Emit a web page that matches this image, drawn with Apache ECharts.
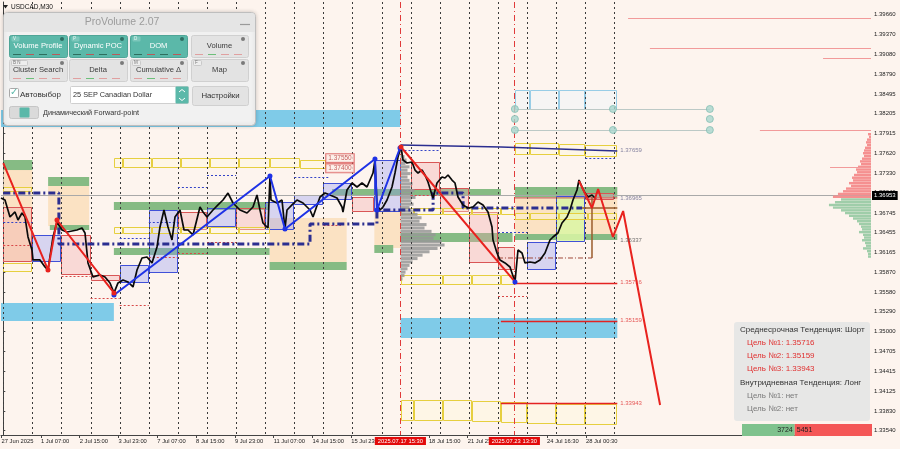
<!DOCTYPE html>
<html>
<head>
<meta charset="utf-8">
<title>USDCAD,M30</title>
<script src="https://cdn.jsdelivr.net/npm/echarts@6.0.0/dist/echarts.min.js"></script>
<style>
html,body{margin:0;padding:0;background:#FDF4EE;overflow:hidden}
#chart{width:900px;height:449px}
</style>
</head>
<body>
<div id="chart"></div>
<script>
// ================= DATA =================
// x unit: trading-day index (0 = 30 Jun 2025 00:00, 1 = 1 Jul, ... 20 = 28 Jul)
const X_MIN = -0.079, X_MAX = 29.818;
const Y_MIN = 1.33477, Y_MAX = 1.39847;

const yTickValues = [1.39660,1.39370,1.39080,1.38790,1.38495,1.38205,1.37915,1.37620,1.37330,1.37040,1.36745,1.36455,1.36165,1.35870,1.35580,1.35290,1.35000,1.34705,1.34415,1.34125,1.33830,1.33540];
const xLabelDays  = [-0.06,1.292,2.625,3.958,5.292,6.625,7.958,9.292,10.625,11.958,14.625,15.958,18.688,20.021];
const xLabelTexts = ['27 Jun 2025','1 Jul 07:00','2 Jul 15:00','3 Jul 23:00','7 Jul 07:00','8 Jul 15:00','9 Jul 23:00','11 Jul 07:00','14 Jul 15:00','15 Jul 23:00','18 Jul 15:00','21 Jul 23:00','24 Jul 16:30','28 Jul 00:30'];
const markerDays  = [13.646, 17.5625];
const markerTexts = ['2025.07.17 15:30','2025.07.23 13:30'];
const daySeparators = [0,1,2,3,4,5,6,7,8,9,10,11,12,13,14,15,16,17,18,19,20,21];

const CURRENT_PRICE = 1.36953;

// price path (USDCAD M30)
const priceDays = [-0.079,0.058,0.230,0.402,0.505,0.643,0.746,0.849,0.986,1.021,
  1.261,1.433,1.536,1.708,1.845,2.017,2.189,2.533,2.704,2.808,
  2.911,3.082,3.323,3.495,3.667,3.804,3.942,4.113,4.285,4.457,
  4.595,4.766,4.938,5.110,5.282,5.385,5.522,5.660,5.797,5.900,
  6.072,6.210,6.347,6.519,6.759,6.863,7.000,7.206,7.378,7.550,
  7.722,7.894,8.134,8.375,8.581,8.718,8.821,8.924,9.096,9.165,
  9.199,9.405,9.577,9.680,9.749,9.921,10.093,10.299,10.540,10.643,
  10.883,11.055,11.227,11.467,11.639,11.673,11.811,11.983,12.155,12.326,
  12.498,12.601,12.704,12.773,12.842,12.945,13.048,13.186,13.357,13.460,
  13.563,13.666,13.735,13.873,14.045,14.148,14.251,14.388,14.491,14.594,
  14.732,14.766,14.904,15.076,15.179,15.282,15.419,15.522,15.625,15.797,
  15.969,16.141,16.313,16.485,16.656,16.794,16.828,16.966,17.069,17.241,
  17.412,17.584,17.687,17.825,17.928,18.100,18.271,18.443,18.615,18.787,
  18.890,19.062,19.199,19.371,19.474,19.577,19.715,19.784,19.887,19.990,
  20.093,20.230,20.367];
const priceVals = [1.36964,1.36934,1.36684,1.36758,1.36640,1.36743,1.36684,1.36390,1.36199,1.36052,
  1.36052,1.35949,1.35905,1.36390,1.36611,1.36493,1.36464,1.36493,1.36522,1.36449,
  1.36008,1.35802,1.35832,1.35802,1.35714,1.35567,1.35714,1.35758,1.35729,1.35655,
  1.35905,1.36081,1.36096,1.36008,1.36243,1.36537,1.36787,1.36537,1.36346,1.36684,
  1.36787,1.36493,1.36493,1.36420,1.36831,1.36758,1.36684,1.36787,1.36861,1.36934,
  1.37037,1.36890,1.36787,1.36743,1.36831,1.37008,1.36787,1.36596,1.36522,1.37287,
  1.36934,1.36890,1.36934,1.36508,1.36787,1.36861,1.36934,1.36890,1.36787,1.36684,
  1.36978,1.37037,1.37008,1.36964,1.36831,1.36758,1.37081,1.37184,1.37125,1.37184,
  1.37125,1.37228,1.37331,1.37523,1.36861,1.36787,1.36831,1.36934,1.37125,1.37331,
  1.37567,1.37714,1.37523,1.37478,1.37493,1.37375,1.37331,1.37375,1.37302,1.37199,
  1.37008,1.36964,1.37184,1.37273,1.37258,1.37302,1.37228,1.37184,1.36978,1.36861,
  1.36817,1.36831,1.36905,1.36861,1.36758,1.36537,1.36346,1.36155,1.36052,1.36008,
  1.35949,1.35729,1.36199,1.36155,1.36008,1.36022,1.36008,1.36052,1.36155,1.36346,
  1.36390,1.36449,1.36596,1.36684,1.36787,1.36934,1.37081,1.37228,1.37125,1.37037,
  1.36978,1.37008,1.36949];

// zones: [dayFrom, dayTo, priceA, priceB]
const skyBands = [[-0.1,13.65,1.38258,1.38008],[-0.1,3.8,1.35419,1.35154],[13.65,21.1,1.35198,1.34904]];
const greenBands = [[0,1,1.37523,1.37375],[1.54,2.95,1.37273,1.37140],[1.6,2.95,1.36567,1.36493],
  [3.8,9.1,1.36905,1.36787],[3.8,9.15,1.36228,1.36125],[9.15,11.8,1.36022,1.35905],
  [12.75,13.4,1.36272,1.36155],[11.3,17.1,1.37096,1.36993],[13.65,17.5,1.36449,1.36316],
  [17.58,21.1,1.37125,1.36978],[17.58,21.1,1.36434,1.36346]];
const peachZones = [[0,1,1.37375,1.36022],[1.54,2.95,1.37140,1.36552],[9.15,11.8,1.36670,1.36022],
  [12.75,13.65,1.36787,1.36228],[17.58,21.1,1.36978,1.36434]];
const blueBoxes = [[1,2,1.36420,1.36022],[4,5,1.35978,1.35714],[5,6,1.36787,1.35860],[7,8,1.36817,1.36537],
  [9,10,1.36905,1.36493],[10,11,1.37008,1.36861],[11,12,1.37184,1.36934],[12.75,13.65,1.37523,1.36758],
  [18,19,1.36316,1.35905]];
const pinkBoxes = [[0,1,1.36831,1.36022],[2,3,1.36420,1.35832],[3,4,1.35832,1.35744],[6,7,1.36758,1.36493],
  [8,9,1.36817,1.36493],[12,12.75,1.36978,1.36758],[14,15,1.37493,1.37081],[15,16,1.37111,1.36758],
  [16,17,1.36758,1.36008],[17,17.58,1.36243,1.35905],[20,21,1.37037,1.36934]];
const limeBoxes = [[19,20,1.36993,1.36316]];
const yellowBoxes = [
  [3.8,4.1,1.37552,1.37405],[4.1,5.1,1.37552,1.37405],[5.1,6.1,1.37552,1.37405],[6.1,7.1,1.37552,1.37405],
  [7.1,8.1,1.37552,1.37405],[8.1,9.15,1.37552,1.37405],[9.15,10.2,1.37552,1.37405],[10.2,11.1,1.37522,1.37390],
  [3.8,4.1,1.36537,1.36434],[4.1,5.1,1.36537,1.36434],[5.1,6.1,1.36537,1.36434],[6.1,7.1,1.36537,1.36434],
  [7.1,8.1,1.36537,1.36434],[8.1,9.15,1.36537,1.36434],
  [0,1,1.37125,1.37052],[0,1,1.36008,1.35875],
  [13.65,14.1,1.36817,1.36714],[14.1,15.1,1.36817,1.36714],[15.1,16.1,1.36817,1.36714],[16.1,17.1,1.36817,1.36714],[17.1,17.58,1.36817,1.36714],
  [17.58,18.1,1.36743,1.36640],[18.1,19.1,1.36743,1.36640],[19.1,20.1,1.36743,1.36640],[20.1,21.1,1.36743,1.36640],
  [13.65,15.1,1.35832,1.35685],[15.1,16.1,1.35832,1.35685],[16.1,17.1,1.35832,1.35685],[17.1,17.58,1.35832,1.35685],
  [13.65,14.1,1.33992,1.33683],[14.1,15.1,1.33992,1.33683],[15.1,16.1,1.33992,1.33683],[16.1,17.1,1.33978,1.33668],
  [17.1,18.0,1.33963,1.33654],[18.0,19.0,1.33948,1.33640],[19.0,20.0,1.33933,1.33625],[20.0,21.1,1.33933,1.33625],
  [17.58,18.1,1.37773,1.37596],[18.1,19.1,1.37773,1.37596],[19.1,20.0,1.37758,1.37582],[20.0,21.1,1.37743,1.37567]];
const forwardBoxes = [[17.58,18.1,1.38552,1.38258],[18.1,19.1,1.38552,1.38258],[19.1,20.0,1.38552,1.38258],[20.0,21.1,1.38552,1.38258]];

// thin POC-type dotted levels: [dayFrom, dayTo, price]
const navyDotted = [[0,1,1.36611],[4,5,1.36375],[5,6,1.36611],[6,7,1.37125],[7,8,1.37302],[10,11.2,1.37273],
  [13.65,15,1.37670],[17,18,1.36464],[20,21,1.37552]];
const redDotted = [[0,1,1.36272],[2,3,1.35816],[3,4,1.35493],[4,5,1.35390],[5,6,1.36096],[6,7,1.36155],
  [7,8,1.36316],[11,11.6,1.36567],[14,15,1.37008],[17,18,1.35522]];

// navy dash-dot value-area path
const navyPathDays = [0,1.91,1.91,10.54,10.54,12.84,12.84,14.77,14.77,15.80,15.80,19.89];
const navyPathVals = [1.37037,1.37037,1.36287,1.36287,1.36581,1.36581,1.36787,1.36787,1.37037,1.37037,1.36817,1.36817];
const navyTopDays = [13.65,17.1,21.1];
const navyTopVals = [1.37743,1.37714,1.37655];

// zigzags
const redZzDays = [0,1.536,1.845,3.804];
const redZzVals = [1.37478,1.35905,1.36640,1.35567];
const blueZzDays = [3.804,9.165,9.680,12.773,12.842,13.632];
const blueZzVals = [1.35537,1.37287,1.36508,1.37537,1.36787,1.37699];
const redZz2Days = [13.666,17.584];
const redZz2Vals = [1.37714,1.35729];
const forecastDays = [19.784,20.23,20.44,20.95,21.30,22.57];
const forecastVals = [1.37214,1.36817,1.37096,1.36390,1.36772,1.33919];

// targets
const targetVals = [1.35716,1.35159,1.33943];
const targetStart = [17.58,17.1,17.1];
const TARGET_END = 21.1;
const levelLabelVals = [1.37659,1.36965,1.36337,1.35716,1.35159,1.33943];
const LABEL_DAY = 21.15;
const boxLabelVals = [1.37550,1.37400];
const BOX_LABEL_DAY = 11.08;

// brown forward-point lines
const brownV = [[20.23,1.36978],[20.23,1.36081]];
const brownH = [[19.89,1.36817],[21.1,1.36817]];
const brownDash = [[17.0,1.36081],[20.23,1.36081]];
const level36965 = [[17.58,1.36965],[21.1,1.36965]];

// forward-point dots
const tealDotDays = [17.58,17.58,17.58,20.95,20.95,24.28,24.28,24.28];
const tealDotVals = [1.38273,1.38126,1.37964,1.38273,1.37964,1.38273,1.38126,1.37964];
const tealLineVals = [1.38273,1.37964];
const TEAL_FROM = 17.58, TEAL_TO = 24.28;

// volume profiles
const VOL_SCALE = 0.0344; // days per volume unit
const grayProfileAnchor = 13.65;
const grayProfilePrices = [1.3762,1.3757,1.3752,1.3747,1.3742,1.3737,1.3732,1.3727,1.3722,1.3717,1.3712,1.3707,1.3702,1.3697,1.3692,1.3687,1.3682,1.3677,1.3672,1.3667,1.3662,1.3657,1.3652,1.3647,1.3642,1.3637,1.3632,1.3627,1.3622,1.3617,1.3612,1.3607,1.3602,1.3597,1.3592,1.3587,1.3582,1.3577];
const grayProfileVols = [2,4,6,5,9,7,10,7,9,12,10,14,12,15,11,13,9,12,17,21,19,26,24,31,35,33,41,44,37,29,22,17,12,9,7,5,4,2];
const rightRedPrices = [1.3790,1.3786,1.3782,1.3778,1.3774,1.3770,1.3766,1.3762,1.3758,1.3754,1.3750,1.3746,1.3742,1.3738,1.3734,1.3730,1.3726,1.3722,1.3718,1.3714,1.3710,1.3706,1.3702,1.3698];
const rightRedVols = [3,2,4,5,4,6,7,8,7,9,11,10,13,15,14,17,19,18,22,20,25,28,33,38];
const rightGreenPrices = [1.3694,1.3690,1.3686,1.3682,1.3678,1.3674,1.3670,1.3666,1.3662,1.3658,1.3654,1.3650,1.3646,1.3642,1.3638,1.3634,1.3630,1.3626,1.3622,1.3618,1.3614,1.3610];
const rightGreenVols = [30,36,42,38,30,26,22,18,14,12,10,9,12,8,7,9,6,5,8,4,3,3];
const rightLevelStarts = [21.47,22.22,28.17,26.0,28.41];
const rightLevelPrices = [1.39611,1.39170,1.39023,1.37964,1.37419];

// delta & info
const deltaBuy = 3724, deltaSell = 5451;

// ================= HELPERS =================
const pairs = (xs, ys) => xs.map((x, i) => [x, ys[i]]);

function boxSeries(name, data, style, z) {
  return {
    name, type: 'custom', z, silent: true, clip: true,
    encode: { x: [0, 1], y: [2, 3] }, data,
    renderItem(params, api) {
      const a = api.coord([api.value(0), api.value(2)]);
      const b = api.coord([api.value(1), api.value(3)]);
      let x1 = Math.min(a[0], b[0]), x2 = Math.max(a[0], b[0]);
      let y1 = Math.min(a[1], b[1]), y2 = Math.max(a[1], b[1]);
      if (style.stroke) { x1 = Math.round(x1) + 0.5; x2 = Math.round(x2) - 0.5; y1 = Math.round(y1) + 0.5; y2 = Math.round(y2) - 0.5; }
      return { type: 'rect', shape: { x: x1, y: y1, width: Math.max(1, x2 - x1), height: Math.max(1, y2 - y1) }, style: Object.assign({}, style) };
    }
  };
}
function segSeries(name, data, style, z) {
  return {
    name, type: 'custom', z, silent: true, clip: true,
    encode: { x: [0, 1], y: 2 }, data,
    renderItem(params, api) {
      const a = api.coord([api.value(0), api.value(2)]);
      const b = api.coord([api.value(1), api.value(2)]);
      const y = Math.round(a[1]) + 0.5;
      return { type: 'line', shape: { x1: a[0], y1: y, x2: b[0], y2: y }, style: Object.assign({}, style) };
    }
  };
}
function vlineSeries(name, days, style, z) {
  return {
    name, type: 'custom', z, silent: true, clip: true,
    encode: { x: 0 }, data: days.map(d => [d]),
    renderItem(params, api) {
      const t = api.coord([api.value(0), Y_MAX]);
      const b = api.coord([api.value(0), Y_MIN]);
      const x = Math.round(t[0]) + 0.5;
      return { type: 'line', shape: { x1: x, y1: t[1], x2: x, y2: b[1] }, style: Object.assign({}, style) };
    }
  };
}
function profileSeries(name, prices, vols, anchor, dir, bin, color, z) {
  return {
    name, type: 'custom', z, silent: true, clip: true,
    encode: { y: 0, x: 1 }, data: pairs(prices, vols),
    renderItem(params, api) {
      const p = api.value(0), v = api.value(1);
      const a = api.coord([anchor, p]);
      const b = api.coord([anchor + dir * v * VOL_SCALE, p]);
      const h = Math.abs(api.size([0, bin])[1]);
      return { type: 'rect', shape: { x: Math.min(a[0], b[0]), y: a[1] - h / 2, width: Math.abs(b[0] - a[0]), height: h * 0.9 }, style: { fill: color } };
    }
  };
}
function lineSeries(name, data, color, width, z, extra) {
  return Object.assign({
    name, type: 'line', z, silent: true, data, showSymbol: false, symbol: 'none',
    lineStyle: { color, width }, itemStyle: { color }, animation: false
  }, extra || {});
}

// ================= CHART =================
const FONT = '"Liberation Sans", Arial, sans-serif';
const chart = echarts.init(document.getElementById('chart'), null, { renderer: 'canvas' });

const series = [
  boxSeries('peach', peachZones, { fill: '#FBE2C3' }, 1),
  boxSeries('green', greenBands, { fill: '#86BB84' }, 2),
  boxSeries('pink', pinkBoxes, { fill: 'rgba(242,165,170,0.35)', stroke: '#D95656', lineWidth: 1 }, 3),
  boxSeries('blue', blueBoxes, { fill: 'rgba(140,150,245,0.33)', stroke: '#4050D8', lineWidth: 1 }, 3),
  boxSeries('lime', limeBoxes, { fill: 'rgba(218,246,165,0.85)', stroke: '#4050D8', lineWidth: 1 }, 3),
  boxSeries('yellow', yellowBoxes, { fill: 'rgba(255,250,215,0.35)', stroke: '#E6CF3F', lineWidth: 1 }, 4),
  boxSeries('forward', forwardBoxes, { fill: 'rgba(235,247,252,0.4)', stroke: '#98CDE6', lineWidth: 1 }, 4),
  profileSeries('grayProfile', grayProfilePrices, grayProfileVols, grayProfileAnchor, 1, 0.0005, 'rgba(150,150,150,0.85)', 4),
  boxSeries('sky', skyBands, { fill: '#7FCBE8' }, 5),
  profileSeries('rightRed', rightRedPrices, rightRedVols, X_MAX, -1, 0.0004, '#F59090', 5),
  profileSeries('rightGreen', rightGreenPrices, rightGreenVols, X_MAX, -1, 0.0004, '#9FCDA9', 5),
  segSeries('rightLevels', rightLevelStarts.map((d, i) => [d, X_MAX, rightLevelPrices[i]]), { stroke: '#F29A9A', lineWidth: 1.2 }, 5),
  vlineSeries('daySep', daySeparators, { stroke: '#3A3A3A', lineWidth: 1, lineDash: [2, 3] }, 6),
  vlineSeries('markers', markerDays, { stroke: '#E03A3A', lineWidth: 1, lineDash: [6, 3, 1, 3] }, 6),
  segSeries('navyDotted', navyDotted, { stroke: '#3444C8', lineWidth: 1, lineDash: [2, 2] }, 6),
  segSeries('redDotted', redDotted, { stroke: '#D84848', lineWidth: 1, lineDash: [2, 2] }, 6),
  segSeries('tealLevels', tealLineVals.map(v => [TEAL_FROM, TEAL_TO, v]), { stroke: '#BCC9C6', lineWidth: 1 }, 6),
  lineSeries('navyPath', pairs(navyPathDays, navyPathVals), '#2B2E90', 3, 7, { lineStyle: { color: '#2B2E90', width: 3, type: [7, 3, 2, 3] } }),
  lineSeries('navyTop', pairs(navyTopDays, navyTopVals), '#2B2E90', 1.5, 7),
  lineSeries('brownV', brownV, '#9A5C2C', 1.5, 7),
  lineSeries('brownH', brownH, '#9A5C2C', 1.5, 7),
  lineSeries('brownDash', brownDash, '#A0483A', 1, 7, { lineStyle: { color: '#A0483A', width: 1, type: [5, 2, 1, 2] } }),
  lineSeries('lvl36965', level36965, '#B85050', 1, 7),
  {
    name: 'tealDots', type: 'scatter', z: 7, silent: true, symbolSize: 7,
    data: pairs(tealDotDays, tealDotVals),
    itemStyle: { color: '#A9D6CD', borderColor: '#86BFB4', borderWidth: 1 }
  },
  lineSeries('price', pairs(priceDays, priceVals), '#0A0A0A', 1.7, 8, {
    markLine: {
      silent: true, symbol: ['none', 'none'], animation: false,
      data: [{ yAxis: CURRENT_PRICE }],
      lineStyle: { color: '#A9A9A9', width: 1, type: 'solid' },
      label: { show: true, position: 'end', distance: 1, formatter: () => CURRENT_PRICE.toFixed(5),
        backgroundColor: '#000', color: '#fff', fontSize: 6, fontFamily: FONT, padding: [2, 2, 1, 2] }
    }
  }),
  lineSeries('blueZz', pairs(blueZzDays, blueZzVals), '#1E32E6', 2, 9, { showSymbol: true, symbol: 'circle', symbolSize: 5 }),
  lineSeries('redZz', pairs(redZzDays, redZzVals).map((p, i) => i === 0 ? { value: p, symbol: 'none' } : p), '#E8221E', 2, 9, { showSymbol: true, symbol: 'circle', symbolSize: 5 }),
  lineSeries('redZz2', pairs(redZz2Days, redZz2Vals).map((p, i) => i === 1 ? { value: p, itemStyle: { color: '#1E32E6' } } : p), '#E8221E', 2, 9, { showSymbol: true, symbol: 'circle', symbolSize: 5 }),
  lineSeries('forecast', pairs(forecastDays, forecastVals), '#E8221E', 2, 9),
  segSeries('targets', targetVals.map((v, i) => [targetStart[i], TARGET_END, v]), { stroke: '#E42222', lineWidth: 1.6 }, 9),
  {
    name: 'levelLabels', type: 'scatter', z: 10, silent: true, symbolSize: 1,
    itemStyle: { color: 'transparent' },
    data: levelLabelVals.map((v, i) => ({ value: [LABEL_DAY, v], label: { color: i < 2 ? '#66668C' : (i === 2 ? '#505050' : '#E03030') } })),
    label: { show: true, position: 'right', distance: 1, fontSize: 6, fontFamily: FONT, formatter: p => p.value[1].toFixed(5) }
  },
  {
    name: 'boxLabels', type: 'scatter', z: 10, silent: true, symbolSize: 1,
    itemStyle: { color: 'transparent' },
    data: boxLabelVals.map(v => [BOX_LABEL_DAY, v]),
    label: { show: true, position: 'right', distance: 0, fontSize: 6.5, fontFamily: FONT, color: '#B83A3A',
      backgroundColor: '#FDF0EA', borderColor: '#D85050', borderWidth: 1, padding: [1, 2, 0, 2],
      formatter: p => p.value[1].toFixed(5) }
  }
];

// ---------- panel / overlays (UI, not data marks) ----------
const TEAL = '#5BB8A9';
const g = [];
const T = (text, x, y, size, color, align, extra) => Object.assign({
  type: 'text', z: 101, silent: true,
  style: { text, x, y, fill: color, font: size + 'px ' + FONT, textAlign: align || 'left', textVerticalAlign: 'middle', align: align || 'left', verticalAlign: 'middle' }
}, extra || {});
const R = (x, y, w, h, fill, stroke, r, z) => ({ type: 'rect', z: z || 100, silent: true, shape: { x, y, width: w, height: h, r: r || 0 }, style: { fill, stroke: stroke || null, lineWidth: 1 } });

// symbol header
g.push({ type: 'polygon', z: 100, silent: true, shape: { points: [[3, 5], [8, 5], [5.5, 8.5]] }, style: { fill: '#222' } });
g.push(T('USDCAD,M30', 11, 7, 6.5, '#111'));

// ProVolume panel
g.push(Object.assign(R(3.5, 12.5, 252, 113, '#F1F1F1', '#BEBEBE', 4), { style: { fill: '#F1F1F1', stroke: '#BEBEBE', lineWidth: 1, shadowBlur: 4, shadowColor: 'rgba(0,0,0,0.18)' } }));
g.push(R(4, 13, 251, 19, '#E5E5E5', null, [3, 3, 0, 0]));
g.push(T('ProVolume 2.07', 122, 22.5, 10.5, '#9C9C9C', 'center'));
g.push({ type: 'line', z: 101, silent: true, shape: { x1: 240, y1: 24.5, x2: 250, y2: 24.5 }, style: { stroke: '#9A9A9A', lineWidth: 1.2 } });

const btnCols = [[9, 58], [69, 58], [130, 57], [191, 57]];
const btnRows = [
  [['Volume Profile', true, 'V'], ['Dynamic POC', true, 'P'], ['DOM', true, 'D'], ['Volume', false, '']],
  [['Cluster Search', false, 'B N'], ['Delta', false, ''], ['Cumulative Δ', false, 'M'], ['Map', false, 'F']]
];
const btnY = [35, 59];
btnRows.forEach((row, ri) => row.forEach((b, ci) => {
  const [x, w] = btnCols[ci], y = btnY[ri], h = 22;
  g.push(R(x + 0.5, y + 0.5, w, h, b[1] ? TEAL : '#E3E3E3', b[1] ? '#4FA597' : '#D0D0D0', 2));
  g.push(T(b[0], x + w / 2, y + 11, 7.6, b[1] ? '#FFFFFF' : '#3A3A3A', 'center'));
  if (b[2]) {
    g.push(R(x + 2.5, y + 1.5, b[2].length > 1 ? 16 : 8, 5, b[1] ? '#7CC7BB' : '#EDEDED', b[1] ? null : '#C9C9C9', 1, 101));
    g.push(T(b[2], x + 4, y + 4, 4.5, b[1] ? '#E8F6F3' : '#777'));
  }
  g.push({ type: 'circle', z: 101, silent: true, shape: { cx: x + w - 5, cy: y + 4, r: 2 }, style: { fill: b[1] ? '#2F6F64' : '#7A7A7A' } });
  if (b[1]) {
    for (let k = 0; k < 4; k++) g.push({ type: 'line', z: 101, silent: true, shape: { x1: x + 4 + k * 13, y1: y + 19.5, x2: x + 12 + k * 13, y2: y + 19.5 }, style: { stroke: k % 2 ? '#B85A5A' : '#2E6E5E', lineWidth: 1 } });
  } else if (b[0] !== 'Map') {
    for (let k = 0; k < 4; k++) g.push({ type: 'line', z: 101, silent: true, shape: { x1: x + 4 + k * 13, y1: y + 19.5, x2: x + 12 + k * 13, y2: y + 19.5 }, style: { stroke: k === 1 ? '#6DBF7A' : '#E0A0A0', lineWidth: 1 } });
  }
}));
// row 3
g.push(R(9.5, 88.5, 9, 9, '#FFFFFF', '#A8A8A8', 1));
g.push(T('✓', 10, 92.5, 10, TEAL));
g.push(T('Автовыбор', 20, 94.5, 8, '#333'));
g.push(R(70.5, 86.5, 118, 17, '#FFFFFF', '#CFCFCF', 1));
g.push(T('25 SEP Canadian Dollar', 73, 95, 7.3, '#333'));
g.push(R(175.5, 86.5, 13, 17, TEAL, null, 1, 101));
g.push({ type: 'polyline', z: 102, silent: true, shape: { points: [[179, 92], [182, 89.5], [185, 92]] }, style: { stroke: '#fff', lineWidth: 1, fill: null } });
g.push({ type: 'polyline', z: 102, silent: true, shape: { points: [[179, 98], [182, 100.5], [185, 98]] }, style: { stroke: '#fff', lineWidth: 1, fill: null } });
g.push(R(192.5, 86.5, 56, 19, '#E3E3E3', '#D0D0D0', 2));
g.push(T('Настройки', 220.5, 96, 7.8, '#333', 'center'));
// row 4
g.push(R(9.5, 106.5, 29, 12, '#DADADA', '#C6C6C6', 2));
g.push(R(19.5, 107.5, 10, 10, TEAL, null, 1, 101));
g.push(T('Динамический Forward-point', 43, 113, 7.3, '#333'));

// info box (bottom right)
g.push(R(734, 322, 136, 99, 'rgba(229,229,229,0.94)', null, 3));
g.push(T('Среднесрочная Тенденция: Шорт', 740, 330, 8, '#333'));
targetVals.forEach((v, i) => g.push(T('Цель №' + (i + 1) + ': ' + v.toFixed(5), 747, 343 + i * 13, 8, '#E03030')));
g.push(T('Внутридневная Тенденция: Лонг', 740, 383, 8, '#333'));
g.push(T('Цель №1: нет', 747, 396, 8, '#7A7A7A'));
g.push(T('Цель №2: нет', 747, 409, 8, '#7A7A7A'));

// delta bar (proportional to buy/sell volumes)
const DELTA_W = 130, buyW = DELTA_W * deltaBuy / (deltaBuy + deltaSell);
g.push(R(742, 424, buyW, 12, '#7FC28D', null, 0));
g.push(R(742 + buyW, 424, DELTA_W - buyW, 12, '#F45656', null, 0));
g.push(T(String(deltaBuy), 742 + buyW - 2, 430, 7, '#1E1E1E', 'right'));
g.push(T(String(deltaSell), 742 + buyW + 2, 430, 7, '#1E1E1E', 'left'));

const option = {
  backgroundColor: '#FDF4EE',
  animation: false,
  grid: { left: 1, right: 29, top: 2, bottom: 14, outerBoundsMode: 'none', containLabel: false },
  xAxis: [
    {
      type: 'value', min: X_MIN, max: X_MAX, position: 'bottom',
      splitLine: { show: false },
      axisLine: { show: true, lineStyle: { color: '#444', width: 1 } },
      axisTick: { show: true, customValues: xLabelDays, length: 3, lineStyle: { color: '#444' } },
      axisLabel: {
        customValues: xLabelDays, align: 'left', margin: 3, fontSize: 5.8, fontFamily: FONT, color: '#222',
        formatter: v => { const i = xLabelDays.findIndex(d => Math.abs(d - v) < 1e-6); return i >= 0 ? xLabelTexts[i] : ''; }
      }
    },
    {
      type: 'value', min: X_MIN, max: X_MAX, position: 'bottom', offset: 0,
      splitLine: { show: false }, axisLine: { show: false }, axisTick: { show: false },
      axisLabel: {
        customValues: markerDays, align: 'center', margin: 2, fontSize: 5.8, fontFamily: FONT, color: '#FFFFFF',
        backgroundColor: '#E20A0A', padding: [1, 3, 1, 3],
        formatter: v => { const i = markerDays.findIndex(d => Math.abs(d - v) < 1e-6); return i >= 0 ? markerTexts[i] : ''; }
      }
    }
  ],
  yAxis: {
    type: 'value', min: Y_MIN, max: Y_MAX, position: 'right', scale: true,
    splitLine: { show: false },
    axisLine: { show: true, lineStyle: { color: '#444', width: 1 } },
    axisTick: { show: true, customValues: yTickValues, length: 2, lineStyle: { color: '#444' } },
    axisLabel: { customValues: yTickValues, formatter: v => v.toFixed(5), fontSize: 6, fontFamily: FONT, color: '#222', margin: 3 }
  },
  series,
  graphic: g
};
chart.setOption(option);
</script>
</body>
</html>
